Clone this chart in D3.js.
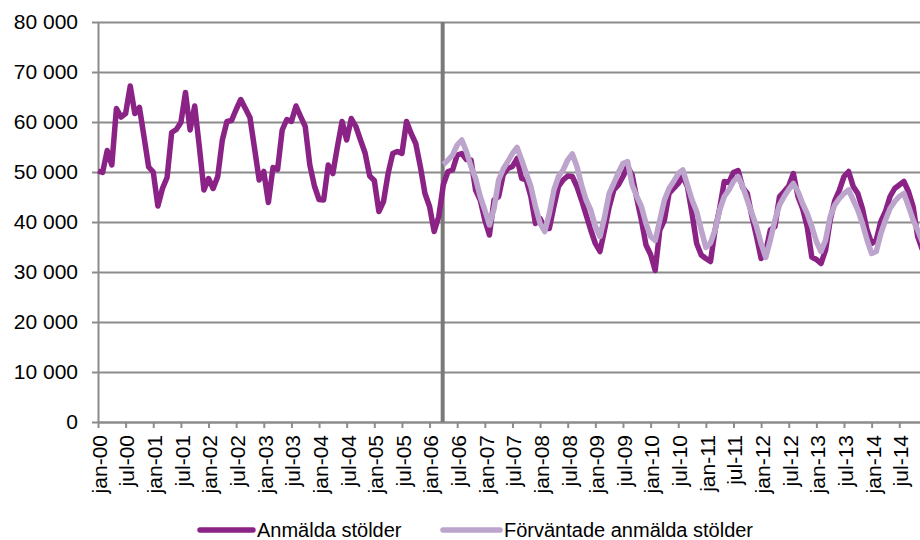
<!DOCTYPE html>
<html>
<head>
<meta charset="utf-8">
<script src="https://cdn.jsdelivr.net/npm/d3@7"></script>
<style>
  body { margin: 0; background: #fff; }
  svg { display: block; font-family: "Liberation Sans", Arial, sans-serif; }
</style>
</head>
<body>
<div id="chart"></div>
<script>
// monthly values, jan-00 .. dec-14
const monthNames = ['jan', 'feb', 'mar', 'apr', 'maj', 'jun', 'jul', 'aug', 'sep', 'okt', 'nov', 'dec'];
const years = d3.range(0, 15);
const categories = years.flatMap(y => monthNames.map(m => `${m}-${String(y).padStart(2, '0')}`));

const anmalda = [
  50200, 49900, 54300, 51400, 62700, 61000, 61700, 67200, 61700, 62900, 57000, 51000,
  50000, 43200, 46700, 48900, 57900, 58500, 59900, 65900, 58400, 63200, 55100, 46400,
  48700, 46700, 49100, 56400, 60100, 60300, 62500, 64500, 62700, 60900, 54700, 48400,
  50100, 43900, 50900, 50500, 58400, 60500, 60100, 63200, 61100, 59100, 51400, 47200,
  44500, 44400, 51400, 49700, 55100, 60100, 56400, 60700, 59100, 56400, 53800, 49200,
  48300, 42100, 44100, 49700, 53700, 54100, 53700, 60100, 57700, 55700, 51100, 45700,
  43100, 38100, 41100, 47500, 50100, 50400, 53400, 53700, 52500, 52400, 46400, 44400,
  40400, 37400, 44400, 45100, 49500, 50700, 51100, 52700, 48700, 48400, 45100, 39700,
  40700, 38700, 38700, 43100, 47100, 48400, 49200, 49100, 47100, 44400, 41400, 38400,
  35700, 34100, 38400, 43000, 46400, 47400, 49100, 51100, 49400, 44700, 40400, 35400,
  33500, 30300, 38400, 40400, 45700, 46700, 47700, 49100, 47100, 41700, 35700, 33400,
  32700, 32100, 38400, 42700, 48100, 47900, 49900, 50300, 46900, 45700, 41100, 37100,
  32700, 34100, 38400, 39100, 45100, 46100, 47200, 49700, 45100, 42700, 39100, 33000,
  32500, 31700, 34400, 40400, 44300, 46400, 49100, 50100, 47100, 45700, 42700, 38400,
  35700, 36400, 40100, 42100, 45100, 46700, 47400, 48100, 46100, 43100, 37100, 34500
];

// expected series starts in apr-06
const forvantadeStart = 'apr-06';
const forvantade = [
  51500, 52400, 53400, 55400, 56400, 54100, 51100, 48700, 45100,
  42400, 39400, 42700, 48400, 50600, 52100, 53700, 54900, 52400, 49700, 47100, 43100,
  39700, 38100, 41700, 46400, 49100, 50400, 52400, 53600, 51100, 47400, 44400, 42400,
  39100, 37100, 41000, 45700, 47700, 49900, 51700, 52100, 47400, 45100, 43100, 39700,
  37100, 36300, 40400, 44400, 46700, 48100, 49700, 50400, 47400, 44400, 42100, 38400,
  34900, 35800, 38400, 42400, 45100, 46400, 48100, 49100, 47100, 44400, 41700, 39100,
  35700, 32900, 36400, 40400, 43400, 45100, 46500, 47700, 46100, 43700, 41700, 39100,
  36100, 34100, 36400, 41100, 43400, 44700, 45700, 46400, 44400, 42400, 39700, 36400,
  33700, 34100, 37700, 40400, 42700, 44100, 45100, 45700, 43200, 40400, 38400, 36000
];

const yTicks = [0, 10000, 20000, 30000, 40000, 50000, 60000, 70000, 80000];
const xTickLabels = categories.filter((d, i) => i % 6 === 0);
const seriesNames = ['Anmälda stölder', 'Förväntade anmälda stölder'];
const colors = ['#8b2387', '#bda4cd'];

const width = 920;
const height = 540;
const margin = {top: 22, left: 98, bottom: 118};
const plotBottom = height - margin.bottom;

const svg = d3.select('#chart')
  .append('svg')
  .attr('width', width)
  .attr('height', height);

const x = d3.scalePoint()
  .domain(categories)
  .range([margin.left, 922.3]);

const y = d3.scaleLinear()
  .domain([0, 80000])
  .range([plotBottom, margin.top]);

const fmt = d3.formatLocale({decimal: ',', thousands: ' ', grouping: [3], currency: ['', '']}).format(',');

// gridlines
svg.append('g')
  .attr('class', 'grid')
  .attr('transform', `translate(${margin.left},0)`)
  .call(d3.axisLeft(y).tickValues(yTicks).tickSize(-(width - margin.left)).tickFormat(''))
  .call(g => g.select('.domain').remove())
  .call(g => g.selectAll('line').attr('stroke', '#8c8c8c').attr('stroke-width', 2));

// y axis
svg.append('g')
  .attr('transform', `translate(${margin.left},0)`)
  .call(d3.axisLeft(y).tickValues(yTicks).tickSize(6).tickSizeOuter(0).tickPadding(14).tickFormat(fmt))
  .call(g => g.select('.domain').attr('stroke', '#8c8c8c').attr('stroke-width', 2))
  .call(g => g.selectAll('line').attr('stroke', '#8c8c8c').attr('stroke-width', 2))
  .call(g => g.selectAll('text').attr('font-size', 21).attr('fill', '#000'));

// x axis
svg.append('g')
  .attr('transform', `translate(0,${plotBottom})`)
  .call(d3.axisBottom(x).tickValues(xTickLabels).tickSize(6).tickSizeOuter(0))
  .call(g => g.select('.domain').attr('stroke', '#8c8c8c').attr('stroke-width', 2))
  .call(g => g.selectAll('line').attr('stroke', '#8c8c8c').attr('stroke-width', 2))
  .call(g => g.selectAll('text')
    .attr('font-size', 21)
    .attr('fill', '#000')
    .attr('transform', 'rotate(-90)')
    .attr('x', -13)
    .attr('y', 1)
    .attr('dy', '0.35em')
    .style('text-anchor', 'end'));

// forecast start marker
svg.append('line')
  .attr('x1', x(forvantadeStart) - 0.7)
  .attr('x2', x(forvantadeStart) - 0.7)
  .attr('y1', margin.top)
  .attr('y2', plotBottom)
  .attr('stroke', '#7a7a7a')
  .attr('stroke-width', 4);

const line = d3.line()
  .x(d => x(d.cat))
  .y(d => y(d.value));

const startIdx = categories.indexOf(forvantadeStart);
const dataA = anmalda.map((v, i) => ({cat: categories[i], value: v}));
const dataF = forvantade.map((v, i) => ({cat: categories[startIdx + i], value: v}));

svg.append('path')
  .datum(dataA)
  .attr('d', line)
  .attr('fill', 'none')
  .attr('stroke', colors[0])
  .attr('stroke-width', 5.5)
  .attr('stroke-linejoin', 'round');

svg.append('path')
  .datum(dataF)
  .attr('d', line)
  .attr('fill', 'none')
  .attr('stroke', colors[1])
  .attr('stroke-width', 5.5)
  .attr('stroke-linejoin', 'round');

// legend
const legend = svg.append('g');
const legendPos = [{x1: 200, x2: 253, tx: 257}, {x1: 443, x2: 500, tx: 504}];
seriesNames.forEach((name, i) => {
  legend.append('line')
    .attr('x1', legendPos[i].x1)
    .attr('x2', legendPos[i].x2)
    .attr('y1', 530)
    .attr('y2', 530)
    .attr('stroke', colors[i])
    .attr('stroke-width', 5.5)
    .attr('stroke-linecap', 'round');
  legend.append('text')
    .attr('x', legendPos[i].tx)
    .attr('y', 530)
    .attr('dy', '0.35em')
    .attr('font-size', 20)
    .text(name);
});
</script>
</body>
</html>
